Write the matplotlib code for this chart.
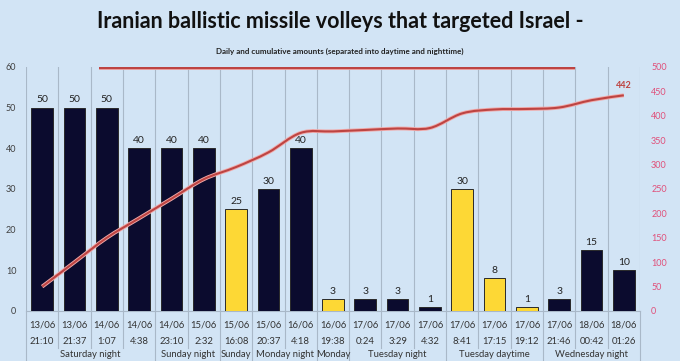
import matplotlib.pyplot as plt
from matplotlib.path import Path
from matplotlib.patches import PathPatch
import matplotlib.patheffects as pe

plt.rcParams['font.family'] = ['Lato', 'DejaVu Sans']

dates = ["13/06", "13/06", "14/06", "14/06", "14/06", "15/06", "15/06", "15/06", "16/06",
         "16/06", "17/06", "17/06", "17/06", "17/06", "17/06", "17/06", "17/06", "18/06", "18/06"]
times = ["21:10", "21:37", "1:07", "4:38", "23:10", "2:32", "16:08", "20:37", "4:18",
         "19:38", "0:24", "3:29", "4:32", "8:41", "17:15", "19:12", "21:46", "00:42", "01:26"]
missiles = [50, 50, 50, 40, 40, 40, 25, 30, 40, 3, 3, 3, 1, 30, 8, 1, 3, 15, 10]
daytime = [False, False, False, False, False, False, True, False, False,
           True, False, False, False, True, True, True, False, False, False]
cumulative = [50, 100, 150, 190, 230, 270, 295, 325, 365, 368, 371, 374, 375,
              405, 413, 414, 417, 432, 442]
# group label, first index, last index
groups = [("Saturday night", 0, 3), ("Sunday night", 4, 5), ("Sunday", 6, 6),
          ("Monday night", 7, 8), ("Monday", 9, 9), ("Tuesday night", 10, 12),
          ("Tuesday daytime", 13, 15), ("Wednesday night", 16, 18)]
flat_line = (1.75, 16.5, 497)

bg = "#d2e4f5"
navy = "#0b0b2e"
yellow = "#fdd835"
red = "#bd4442"
pink = "#e0507a"
grid_c = "#a9b8c8"
glow = [pe.Stroke(linewidth=2.8, foreground="#f0a9a9"), pe.Normal()]

fig = plt.figure(figsize=(6.8, 3.61), dpi=100, facecolor=bg)
ax = fig.add_axes([26 / 680, 50 / 361, 614 / 680, 244 / 361], facecolor=bg)
ax2 = ax.twinx()

x = list(range(len(missiles)))
colors = [yellow if d else navy for d in daytime]
ax.bar(x, missiles, width=0.67, color=colors, edgecolor="#2a2a2a", linewidth=0.7, zorder=3)
for xi, v in zip(x, missiles):
    ax.text(xi, v + 0.8, str(v), ha="center", va="bottom", fontsize=7.5, color="#222222", zorder=4)

ax.set_xlim(-0.5, len(missiles) - 0.5)
ax.set_ylim(0, 60)
ax.set_yticks(range(0, 61, 10))
ax.tick_params(axis="y", length=0, pad=7, labelsize=6.5, labelcolor="#404040")
ax.set_xticks([])
for s in ["top", "right", "left"]:
    ax.spines[s].set_visible(False)
ax.spines["bottom"].set_color(grid_c)
ax.spines["bottom"].set_linewidth(0.8)

# vertical category separators
group_starts = {g[1] for g in groups} | {len(missiles)}
tr = ax.get_xaxis_transform()
for k in range(len(missiles) + 1):
    xb = k - 0.5
    ax.plot([xb, xb], [0, 1], transform=tr, color=grid_c, lw=0.8, zorder=1)
    ybot = -0.205 if k in group_starts else -0.152
    ax.plot([xb, xb], [0, ybot], transform=tr, color=grid_c, lw=0.8, clip_on=False)

for xi in x:
    ax.text(xi, -0.057, dates[xi], transform=tr, ha="center", va="center", fontsize=6.8, color="#333333")
    ax.text(xi, -0.127, times[xi], transform=tr, ha="center", va="center", fontsize=6.8, color="#333333")
for name, a, b in groups:
    ax.text((a + b) / 2, -0.18, name, transform=tr, ha="center", va="center", fontsize=6.8, color="#333333")

# cumulative line (smoothed)
ax2.set_ylim(0, 500)
ax2.set_yticks(range(0, 501, 50))
ax2.tick_params(axis="y", length=0, pad=8, labelsize=6.5, labelcolor=pink)
for s in ["top", "right", "left", "bottom"]:
    ax2.spines[s].set_visible(False)

verts = [(x[0], cumulative[0])]
codes = [Path.MOVETO]
n = len(cumulative)
for i in range(n - 1):
    p0 = (x[max(i - 1, 0)], cumulative[max(i - 1, 0)])
    p1 = (x[i], cumulative[i])
    p2 = (x[i + 1], cumulative[i + 1])
    p3 = (x[min(i + 2, n - 1)], cumulative[min(i + 2, n - 1)])
    c1 = (p1[0] + (p2[0] - p0[0]) / 6, p1[1] + (p2[1] - p0[1]) / 6)
    c2 = (p2[0] - (p3[0] - p1[0]) / 6, p2[1] - (p3[1] - p1[1]) / 6)
    verts += [c1, c2, p2]
    codes += [Path.CURVE4] * 3
line = PathPatch(Path(verts, codes), facecolor="none", edgecolor=red, lw=1.5, zorder=5,
                 path_effects=glow)
ax2.add_patch(line)
ax2.hlines(flat_line[2], flat_line[0], flat_line[1], color=red, lw=1.6, path_effects=glow)
ax2.text(x[-1], cumulative[-1] + 10, str(cumulative[-1]), ha="center", va="bottom",
         fontsize=6.5, fontweight="bold", color=red)

fig.text(0.5, 0.94, "Iranian ballistic missile volleys that targeted Israel -", ha="center", va="center",
         fontsize=15.5, fontweight="bold", color="#111111")
fig.text(0.5, 0.857, "Daily and cumulative amounts (separated into daytime and nighttime)", ha="center",
         va="center", fontsize=5.8, fontweight="bold", color="#222222")

fig.savefig("out.png", dpi=100, facecolor=bg)
